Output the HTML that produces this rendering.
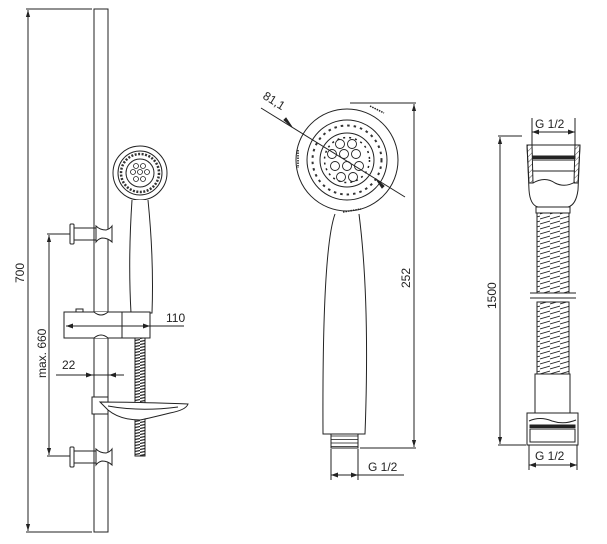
<!DOCTYPE html>
<html><head><style>
html,body{margin:0;padding:0;background:#fff}
svg{display:block}
text{font-family:"Liberation Sans",sans-serif;font-size:12px;fill:#222;stroke:none}
</style></head><body>
<svg width="607" height="544" viewBox="0 0 607 544" xmlns="http://www.w3.org/2000/svg" fill="none" stroke="#222" stroke-width="1">
<defs>
<marker id="a" viewBox="0 0 10 10" refX="10" refY="5" markerWidth="7" markerHeight="7" orient="auto-start-reverse"><path d="M0,2 L10,5 L0,8" fill="#222" stroke="none"/></marker>
<pattern id="sp" width="10" height="5" patternUnits="userSpaceOnUse"><rect width="10" height="5" fill="#fff" stroke="none"/><path d="M0,4 L10,1" stroke="#222" stroke-width="0.9"/></pattern>
<pattern id="sp2" width="10" height="3" patternUnits="userSpaceOnUse"><rect width="10" height="3" fill="#fff" stroke="none"/><path d="M0,2.5 L10,0.5" stroke="#222" stroke-width="1.2"/></pattern>
<pattern id="hp" width="4" height="4" patternUnits="userSpaceOnUse" patternTransform="rotate(45)"><path d="M0,0 L0,4" stroke="#222" stroke-width="0.8"/></pattern>
<pattern id="th" width="10" height="3.5" patternUnits="userSpaceOnUse"><path d="M0,2 H10" stroke="#222" stroke-width="0.8"/></pattern>
</defs>

<!-- LEFT: rail -->
<rect x="94" y="9" width="14" height="523"/>
<line x1="26" y1="9" x2="92" y2="9"/><line x1="26" y1="532" x2="92" y2="532"/>
<line x1="28" y1="10" x2="28" y2="531" marker-start="url(#a)" marker-end="url(#a)"/>
<text transform="translate(24,283) rotate(-90)">700</text>

<g id="br">
<rect x="70" y="224" width="4" height="20" rx="1"/>
<path d="M74,228 L96,228 M74,240 L96,240"/>
<path d="M96,226 Q100,230 106,230 Q110,229 112,226 L112,242 Q108,238 102,238 Q98,239 96,242 Z" fill="#fff"/>
</g>
<use href="#br" transform="translate(0,223)"/>
<line x1="47" y1="234" x2="70" y2="234"/><line x1="47" y1="456" x2="70" y2="456"/>
<line x1="49" y1="235" x2="49" y2="455" marker-start="url(#a)" marker-end="url(#a)"/>
<text transform="translate(46,378) rotate(-90)">max. 660</text>

<!-- small shower head -->
<circle cx="140" cy="173" r="27" fill="#fff"/>
<circle cx="140" cy="173" r="22"/>
<circle cx="140" cy="173" r="19" stroke="#333" stroke-width="2.5" stroke-dasharray="2 1.5"/>
<circle cx="140" cy="173" r="14"/>
<g stroke-width="0.8">
<circle cx="136" cy="166" r="2.5"/><circle cx="143" cy="166" r="2.5"/><circle cx="133" cy="172" r="2.5"/><circle cx="140" cy="172" r="2.5"/><circle cx="147" cy="172" r="2.5"/><circle cx="136" cy="179" r="2.5"/><circle cx="143" cy="179" r="2.5"/>
</g>
<path d="M132,200 Q128,260 131,313 L152,313 Q154,260 148,200" fill="#fff"/>
<path d="M135,313 Q142,318 149,313 Z" fill="#222"/>

<!-- slider -->
<rect x="64" y="312" width="86" height="26" fill="#fff"/>
<line x1="122" y1="312" x2="122" y2="338"/>
<rect x="76" y="309" width="7" height="3"/>
<path d="M94,312 Q101,318 108,312" fill="#fff"/>
<path d="M94,338 Q101,332 108,338" fill="#fff"/>
<line x1="66" y1="326" x2="184" y2="326"/>
<path d="M66,326 l7,-2.5 v5 z M150,326 l-7,-2.5 v5 z" fill="#222" stroke="none"/>
<text x="166" y="322">110</text>
<rect x="135" y="338" width="10" height="118" fill="url(#sp2)" stroke="#222"/>
<line x1="56" y1="375" x2="124" y2="375"/>
<path d="M93,375 l-7,-2.5 v5 z M109,375 l7,-2.5 v5 z" fill="#222" stroke="none"/>
<text x="62" y="369">22</text>
<rect x="92" y="397" width="16" height="17" fill="#fff"/>
<path d="M100,402 Q130,402 188,404 Q186,410 170,413 Q150,418 140,420 Q120,420 108,410 Z" fill="#fff"/>
<path d="M108,406 Q140,412 178,407"/>

<!-- MIDDLE: shower head -->
<circle cx="347" cy="160" r="51"/>
<circle cx="347" cy="160" r="40"/>
<circle cx="347" cy="160" r="34.5" stroke="#333" stroke-width="2" stroke-dasharray="2.5 4"/>
<circle cx="347" cy="160" r="27"/>
<circle cx="347" cy="160" r="22.5" stroke-width="1.5" stroke-dasharray="2 4"/>
<g stroke-width="0.9">
<circle cx="340" cy="144" r="4.5"/><circle cx="352" cy="144" r="4.5"/><circle cx="332" cy="154" r="4.5"/><circle cx="344" cy="154" r="4.5"/><circle cx="356" cy="154" r="4.5"/><circle cx="335" cy="166" r="4.5"/><circle cx="347" cy="166" r="4.5"/><circle cx="359" cy="166" r="4.5"/><circle cx="341" cy="177" r="4.5"/><circle cx="353" cy="177" r="4.5"/>
</g>
<path d="M298,150 l0,18 M370,106 l14,7 M343,212 l18,-3" stroke-dasharray="1.5 1" stroke-width="1.5"/>
<line x1="261" y1="108" x2="405" y2="197"/>
<path d="M292,127 l-8,-7 l2,-2 z M376,179 l8,7 l-2,2 z" fill="#222"/>
<text transform="translate(262,98) rotate(32)">81,1</text>
<path d="M335,214 Q322,250 323,434 L365,434 Q370,300 359,214" fill="#fff"/>
<rect x="331" y="434" width="27" height="14" fill="url(#th)" stroke="#222"/>
<line x1="350" y1="103" x2="416" y2="103"/><line x1="360" y1="448" x2="416" y2="448"/>
<line x1="414" y1="104" x2="414" y2="447" marker-start="url(#a)" marker-end="url(#a)"/>
<text transform="translate(410,288) rotate(-90)">252</text>
<path d="M331,449 V480 M358,449 V480"/>
<line x1="331" y1="475" x2="404" y2="475"/>
<path d="M331,475 l7,-2.5 v5 z M358,475 l-7,-2.5 v5 z" fill="#222" stroke="none"/>
<text x="368" y="471">G 1/2</text>

<!-- RIGHT: hose -->
<line x1="498" y1="136" x2="522" y2="136"/><line x1="498" y1="445" x2="526" y2="445"/>
<line x1="500" y1="137" x2="500" y2="444" marker-start="url(#a)" marker-end="url(#a)"/>
<text transform="translate(496,309) rotate(-90)">1500</text>
<path d="M532,118 V145 M575,118 V145"/>
<line x1="532" y1="132" x2="575" y2="132"/>
<path d="M532,132 l7,-2.5 v5 z M575,132 l-7,-2.5 v5 z" fill="#222" stroke="none"/>
<text x="535" y="128">G 1/2</text>
<path d="M527,145 L580,145 L578,190 Q576,205 568,207 L538,207 Q530,205 529,190 Z" fill="#fff"/>
<path d="M527,145 L532,145 L533,183 L529,183 Z M575,145 L580,145 L578,183 L574,183 Z" fill="url(#hp)"/>
<rect x="533" y="156" width="42" height="2.5" fill="#222"/>
<path d="M533,160 H575 M533,171 H575 M533,183 Q545,176 555,183 Q565,188 575,182"/>
<rect x="536" y="207" width="34" height="6"/>
<rect x="537" y="213" width="32" height="80" fill="url(#sp)" stroke="#222"/>
<rect x="537" y="302" width="32" height="72" fill="url(#sp)" stroke="#222"/>
<path d="M530,293 H576 M530,298 H576"/>
<rect x="535" y="374" width="35" height="39" fill="#fff"/>
<rect x="527" y="413" width="51" height="32" fill="#fff"/>
<path d="M529,421 Q540,416 552,421 Q564,425 576,420"/>
<rect x="530" y="425" width="45" height="2.5" fill="#222"/>
<rect x="530" y="429" width="45" height="13"/>
<path d="M529,445 V470 M577,445 V470"/>
<line x1="529" y1="465" x2="577" y2="465"/>
<path d="M529,465 l7,-2.5 v5 z M577,465 l-7,-2.5 v5 z" fill="#222" stroke="none"/>
<text x="535" y="460">G 1/2</text>
</svg>
</body></html>
